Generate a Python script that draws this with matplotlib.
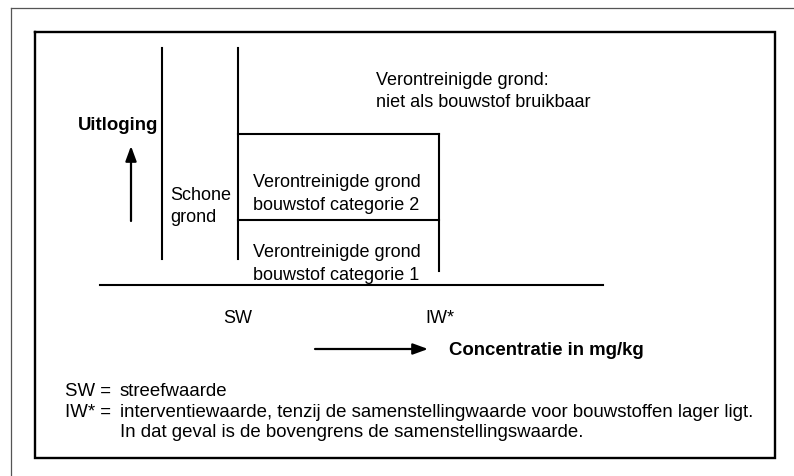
import matplotlib
matplotlib.use("Agg")
import matplotlib.pyplot as plt

plt.rcParams['font.family'] = ['Liberation Sans', 'DejaVu Sans']

# --- diagram content (pixel layout of the scheme) ---
# concentration boundaries (x) : left of clean zone, SW, IW*
conc_bounds = [162, 238, 439]
# leaching boundaries (y) : top of columns, cat2/not-usable, cat1/cat2, bottom
leach_bounds = [49, 135, 221, 272]
baseline_y = 286
baseline_x = [100, 603]

zone_labels = ["Verontreinigde grond:\nniet als bouwstof bruikbaar",
               "Verontreinigde grond\nbouwstof categorie 2",
               "Verontreinigde grond\nbouwstof categorie 1"]
clean_label = "Schone\ngrond"
tick_labels = ["SW", "IW*"]
y_axis_label = "Uitloging"
x_axis_label = "Concentratie in mg/kg"
legend_keys = ["SW =", "IW* ="]
legend_texts = ["streefwaarde",
                "interventiewaarde, tenzij de samenstellingwaarde voor bouwstoffen lager ligt.\n"
                "In dat geval is de bovengrens de samenstellingswaarde."]

FS = 13
FS_NOTE = 13.4
FS_BOLD = 13.4

fig = plt.figure(figsize=(7.94, 4.77), dpi=100)
ax = fig.add_axes([0, 0, 1, 1])
ax.set_xlim(0, 794)
ax.set_ylim(477, 0)
ax.axis('off')

# outer scan frame
ax.plot([11, 794], [9, 9], color='#555555', lw=0.9)
ax.plot([11, 11], [9, 477], color='#555555', lw=0.9)

# inner box
ax.plot([35, 775, 775, 35, 35], [33, 33, 459, 459, 33], color='black', lw=1.7,
        solid_joinstyle='miter')

lw = 1.5
x0, xs, xi = conc_bounds
ytop, y12, y1, ybot = leach_bounds
# vertical lines
ax.plot([x0, x0], [ytop, 260], color='black', lw=lw)
ax.plot([xs, xs], [ytop, 260], color='black', lw=lw)
ax.plot([xi, xi], [y12, ybot], color='black', lw=lw)
# horizontal lines
ax.plot([xs, xi], [y12, y12], color='black', lw=lw)
ax.plot([xs, xi], [y1, y1], color='black', lw=lw)
ax.plot(baseline_x, [baseline_y, baseline_y], color='black', lw=lw)

# zone labels
ax.text(376, 85, zone_labels[0].split("\n")[0], fontsize=FS, va='baseline')
ax.text(376, 107, zone_labels[0].split("\n")[1], fontsize=FS, va='baseline')
ax.text(253, 187, zone_labels[1].split("\n")[0], fontsize=FS, va='baseline')
ax.text(253, 210, zone_labels[1].split("\n")[1], fontsize=FS, va='baseline')
ax.text(253, 257, zone_labels[2].split("\n")[0], fontsize=FS, va='baseline')
ax.text(253, 280, zone_labels[2].split("\n")[1], fontsize=FS, va='baseline')
ax.text(170, 200, clean_label.split("\n")[0], fontsize=FS, va='baseline')
ax.text(170, 222, clean_label.split("\n")[1], fontsize=FS, va='baseline')

# axis label + up arrow
ax.text(78, 130, y_axis_label, fontsize=FS_BOLD, fontweight='bold', va='baseline')
ax.annotate('', xy=(131, 147), xytext=(131, 222),
            arrowprops=dict(arrowstyle='-|>,head_length=0.9,head_width=0.33',
                            lw=1.6, color='black', shrinkA=0, shrinkB=0))

# ticks SW / IW*
ax.text(xs, 323, tick_labels[0], fontsize=FS, va='baseline', ha='center')
ax.text(425, 323, tick_labels[1], fontsize=FS, va='baseline', ha='left')

# concentration arrow
ax.annotate('', xy=(428, 350), xytext=(315, 350),
            arrowprops=dict(arrowstyle='-|>,head_length=0.9,head_width=0.33',
                            lw=1.6, color='black', shrinkA=0, shrinkB=0))
ax.text(449, 355, x_axis_label, fontsize=FS_BOLD, fontweight='bold', va='baseline')

# legend / footnotes
ax.text(65, 396, legend_keys[0], fontsize=FS_NOTE, va='baseline')
ax.text(120, 396, legend_texts[0], fontsize=FS_NOTE, va='baseline')
ax.text(65, 417, legend_keys[1], fontsize=FS_NOTE, va='baseline')
l1, l2 = legend_texts[1].split("\n")
ax.text(120, 417, l1, fontsize=FS_NOTE, va='baseline')
ax.text(120, 437, l2, fontsize=FS_NOTE, va='baseline')

fig.savefig("out.png", dpi=100)
